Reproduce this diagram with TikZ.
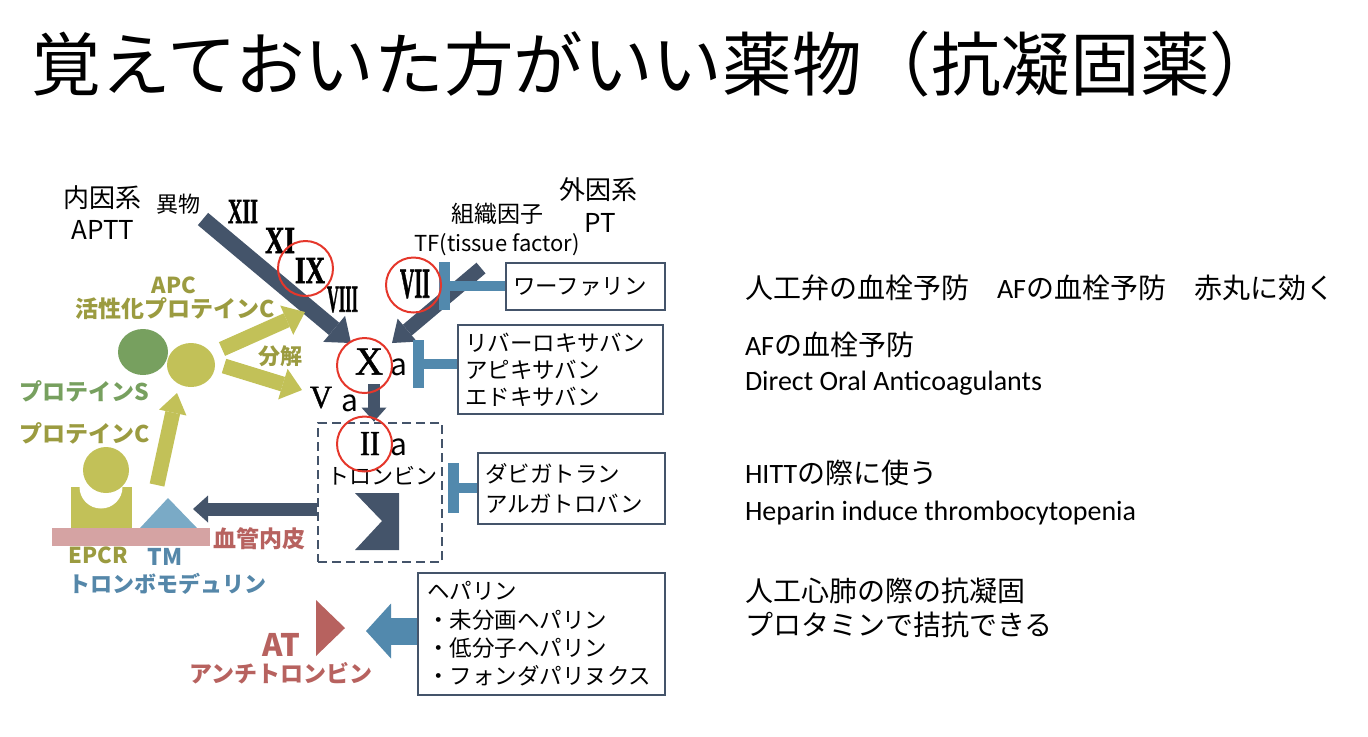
\documentclass[tikz,border=0pt]{standalone}
\usepackage{fontspec}
\newfontfamily\jp{Noto Sans CJK JP}
\newfontfamily\calfont{Carlito}
\newfontfamily\numfont[UprightFeatures={FakeBold=1.2}, BoldFeatures={FakeBold=1.6}]{Liberation Serif}
\usetikzlibrary{arrows.meta}

\definecolor{slate}{HTML}{44546A}
\definecolor{olivefill}{HTML}{C2C158}
\definecolor{olivetext}{HTML}{9B9B40}
\definecolor{sgreen}{HTML}{77A05F}
\definecolor{tmblue}{HTML}{7AAAC6}
\definecolor{bluetext}{HTML}{5587A9}
\definecolor{inhib}{HTML}{5289AD}
\definecolor{pinkbar}{HTML}{D5A3A3}
\definecolor{rust}{HTML}{B7625F}
\definecolor{ringred}{HTML}{E5372B}

\newcommand{\fsz}[2]{\fontsize{#1pt}{#2pt}\selectfont}
% condensed serif numerals, bold and regular
\newcommand{\rnum}[3]{\resizebox{#1}{#2}{\numfont\bfseries #3}}
\newcommand{\rnumm}[3]{\resizebox{#1}{#2}{\numfont #3}}

\begin{document}
\begin{tikzpicture}[x=0.5pt,y=-0.5pt,
  lbl/.style={inner sep=0pt, outer sep=0pt},
  numeral/.style={inner sep=0pt, outer sep=0pt},
  ring/.style={circle, draw=ringred, line width=1pt, minimum size=27.5pt, inner sep=0pt},
  drugbox/.style={draw=slate, line width=1.3pt, fill=white, inner ysep=0pt, inner xsep=3.5pt, align=left},
  bar/.style={draw=inhib, line width=5.5pt},
  stub/.style={draw=inhib, line width=5pt},
]
\useasboundingbox (0,0) rectangle (1368,736);

% title
\node[lbl, font={\jp\fsz{34.8}{40}}, anchor=base west] (title) at (32,90) {覚えておいた方がいい薬物（抗凝固薬）};

% pathway labels
\node[lbl, font={\jp\fsz{13}{15}}] (intr) at (102,198) {内因系};
\node[lbl, font={\jp\fsz{13}{15}}] (aptt) at (103,230) {APTT};
\node[lbl, font={\jp\fsz{11}{13}}] (ibutsu) at (178,204) {異物};
\node[lbl, font={\jp\fsz{11.5}{13}}] (soshiki) at (497,214) {組織因子};
\node[lbl, font={\jp\fsz{11}{13}}] (tf) at (497,245) {TF(tissue factor)};
\node[lbl, font={\jp\fsz{13}{15}}] (extr) at (598,190) {外因系};
\node[lbl, font={\jp\fsz{13}{15}}] (pt) at (600,223) {PT};

% main intrinsic arrow
\coordinate (ibS) at (203,219);
\coordinate (xaN) at (351,343);
\draw[slate, line width=8pt, -{Triangle[length=11pt,width=17pt,line width=0pt]}] (ibS) -- (xaN);

% tissue factor arrow
\coordinate (tfS) at (481,268);
\coordinate (xaE) at (392,343);
\draw[slate, line width=7pt, -{Triangle[length=10pt,width=15pt,line width=0pt]}] (tfS) -- (xaE);

% factors
\node[numeral] (n12) at (243,211.5) {\rnum{15pt}{11.5pt}{XII}};
\node[numeral] (n11) at (280,240.5) {\rnum{15pt}{12.5pt}{XI}};
\node[numeral] (n9) at (310,270.5) {\rnum{15pt}{12.5pt}{IX}};
\node[numeral] (n8) at (342.5,299.5) {\rnum{15.5pt}{12.5pt}{VIII}};
\node[numeral] (n7) at (415,284) {\rnum{15pt}{14pt}{VII}};
\node[numeral] (n10) at (369,361.5) {\rnumm{14pt}{13pt}{X}};
\node[lbl, font={\jp\fsz{15}{17}}] (n10a) at (398.5,367.5) {a};
\node[numeral] (n5) at (321,397.5) {\rnumm{11pt}{10.5pt}{V}};
\node[lbl, font={\jp\fsz{15}{17}}] (n5a) at (350,403.5) {a};
\node[numeral] (n2) at (370,443.5) {\rnumm{10pt}{11.5pt}{II}};
\node[lbl, font={\jp\fsz{15}{17}}] (n2a) at (398.5,447.5) {a};

% thrombin box
\node[draw=slate, line width=1.4pt, dash pattern=on 4.5pt off 2.5pt, minimum width=62pt, minimum height=69.5pt, inner sep=0pt] (thr) at (380,492.5) {};
\node[lbl, font={\jp\fsz{11}{13}}] (thrtxt) at (382,476) {トロンビン};
\fill[slate] (355,493) -- (399,493) -- (399,550) -- (355,550) -- (382,521) -- cycle;

% Xa -> IIa
\coordinate (xaS) at (374,384);
\draw[slate, line width=6pt, -{Triangle[length=7pt,width=12.5pt,line width=0pt]}] (xaS) -- (thr.north -| xaS);

% thrombin -> thrombomodulin
\coordinate (tmTip) at (193,509);
\draw[slate, line width=6.5pt, -{Triangle[length=7.5pt,width=13.5pt,line width=0pt]}] (thr.west |- tmTip) -- (tmTip);

% drug boxes
\node[drugbox, font={\jp\fsz{11.25}{13.5}}, text width=72.5pt, minimum height=23.5pt] (warf) at (585.5,286.5) {ワーファリン};
\node[drugbox, font={\jp\fsz{11.25}{13.5}}, text width=95.5pt, minimum height=44.5pt] (doac) at (560.5,369.5) {リバーロキサバン\\アピキサバン\\エドキサバン};
\node[drugbox, font={\jp\fsz{11.25}{15}}, text width=86.5pt, minimum height=35.5pt] (dti) at (571.5,488.5) {ダビガトラン\\アルガトロバン};
\node[drugbox, font={\jp\fsz{11.25}{14.2}}, inner xsep=4.5pt, text width=114.5pt, minimum height=61pt] (hep) at (541.5,634) {ヘパリン\\・未分画ヘパリン\\・低分子ヘパリン\\・フォンダパリヌクス};

% inhibition bars
\coordinate (wbar) at (444.5,286);
\draw[bar] (444.5,262) -- (444.5,310);
\draw[stub] (wbar) -- (wbar -| warf.west);
\coordinate (dbar) at (418.5,364);
\draw[bar] (418.5,340) -- (418.5,388);
\draw[stub] (dbar) -- (dbar -| doac.west);
\coordinate (tbar) at (453.5,488);
\draw[bar] (453.5,463) -- (453.5,513);
\draw[stub] (tbar) -- (tbar -| dti.west);

% heparin -> antithrombin
\coordinate (atTip) at (366,631);
\draw[inhib, line width=13.5pt, -{Triangle[length=12.5pt,width=27.5pt,line width=0pt]}] (hep.west |- atTip) -- (atTip);
\fill[rust] (316,600) -- (345,628) -- (316,656) -- cycle;
\node[lbl, text=rust, font={\jp\bfseries\fsz{15.5}{18}}] (at) at (281,645) {AT};
\node[lbl, text=rust, font={\jp\bfseries\fsz{11.5}{13}}] (attxt) at (281,673) {アンチトロンビン};

% protein C / S system
\fill[sgreen] (143,352) ellipse [x radius=25, y radius=23];
\fill[olivefill] (191,365) ellipse [x radius=24, y radius=22];
\node[lbl, text=olivetext, font={\jp\bfseries\fsz{11}{13}}] (apc) at (174,285) {APC};
\node[lbl, text=olivetext, font={\jp\bfseries\fsz{11.5}{13}}] (apctxt) at (175,309) {活性化プロテインC};
\node[lbl, text=olivetext, font={\jp\bfseries\fsz{11}{13}}] (bunkai) at (280,356) {分解};
\node[lbl, text=sgreen, font={\jp\bfseries\fsz{11.5}{13}}] (ps) at (84,391) {プロテインS};
\node[lbl, text=olivetext, font={\jp\bfseries\fsz{11.5}{13}}] (pc) at (85,433) {プロテインC};

\coordinate (apcU) at (222,349);
\coordinate (apcUT) at (305,312);
\draw[olivefill, line width=7.5pt, -{Triangle[length=10pt,width=16pt,line width=0pt]}] (apcU) -- (apcUT);
\coordinate (apcD) at (224,366);
\coordinate (apcDT) at (302,390);
\draw[olivefill, line width=7.5pt, -{Triangle[length=10pt,width=16pt,line width=0pt]}] (apcD) -- (apcDT);
\coordinate (pcS) at (157,485);
\coordinate (pcT) at (177,393);
\draw[olivefill, line width=7.5pt, -{Triangle[length=10pt,width=14pt,line width=0pt]}] (pcS) -- (pcT);

% EPCR with bound protein C, thrombomodulin, endothelium
\fill[olivefill] (71,487) rectangle (132,528);
\fill[white] (101,487) circle [radius=21.5];
\fill[olivefill] (106,470) circle [radius=23];
\fill[tmblue] (140,528) -- (168,498) -- (197,528) -- cycle;
\fill[pinkbar] (52,528) rectangle (210,546);
\node[lbl, text=rust, font={\jp\bfseries\fsz{11.5}{13}}] (endo) at (259,539) {血管内皮};
\node[lbl, text=olivetext, font={\jp\bfseries\fsz{11}{13}}] (epcr) at (98,555) {EPCR};
\node[lbl, text=bluetext, font={\jp\bfseries\fsz{11.5}{13}}] (tm) at (165,557) {TM};
\node[lbl, text=bluetext, font={\jp\bfseries\fsz{11}{13}}] (tmtxt) at (167,584) {トロンボモデュリン};

% red rings
\node[ring] (r9) at (305.5,268.5) {};
\node[ring] (r7) at (413.5,285) {};
\node[ring] (r10) at (364.5,365.5) {};
\node[ring] (r2) at (364.5,444) {};

% notes
\node[lbl, font={\jp\fsz{14}{17}}, anchor=base west] (note1) at (745,298) {人工弁の血栓予防　{\calfont AF}の血栓予防　赤丸に効く};
\node[lbl, font={\jp\fsz{14}{17}}, anchor=base west] (note2) at (745,355) {{\calfont AF}の血栓予防};
\node[lbl, font={\calfont\fsz{14}{17}}, anchor=base west] (note3) at (745,390) {Direct Oral Anticoagulants};
\node[lbl, font={\jp\fsz{14}{17}}, anchor=base west] (note4) at (745,483) {{\calfont HITT}の際に使う};
\node[lbl, font={\calfont\fsz{14}{17}}, anchor=base west] (note5) at (745,520) {Heparin induce thrombocytopenia};
\node[lbl, font={\jp\fsz{14}{17}}, anchor=base west] (note6) at (745,601) {人工心肺の際の抗凝固};
\node[lbl, font={\jp\fsz{14}{17}}, anchor=base west] (note7) at (745,635) {プロタミンで拮抗できる};
\end{tikzpicture}
\end{document}
